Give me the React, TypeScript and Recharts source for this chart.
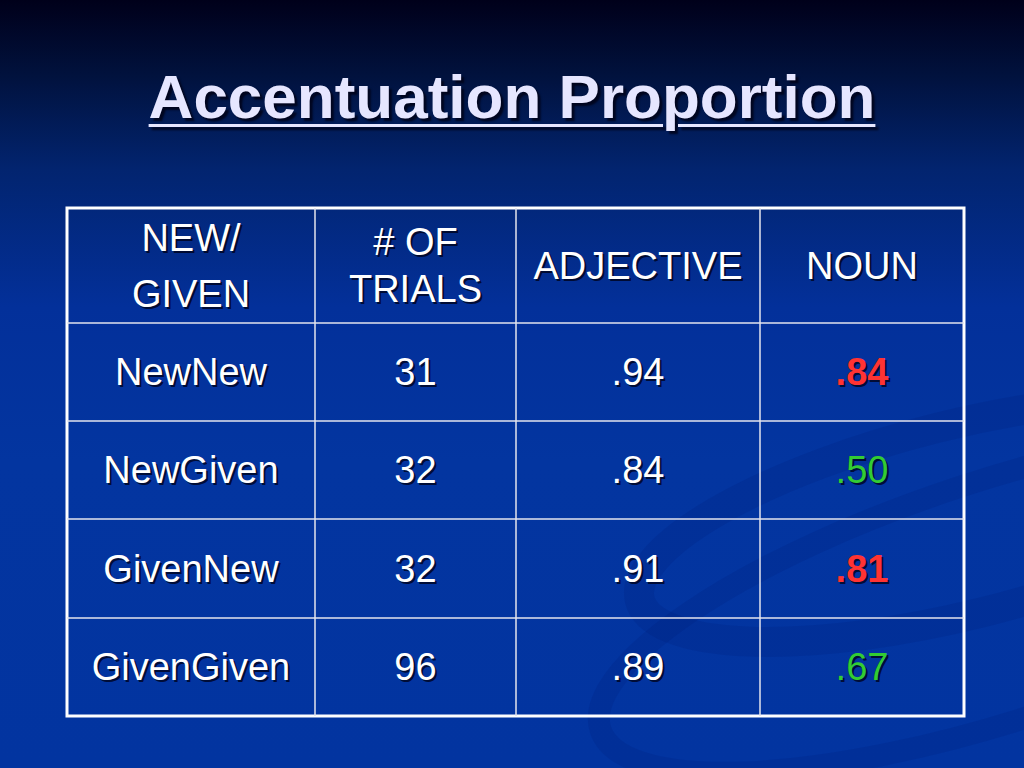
import React from "react";
import {
  ReferenceArea,
  ReferenceLine,
  Scatter,
  ScatterChart,
  XAxis,
  YAxis
} from "recharts";

// table content
const headers = [["NEW/", "GIVEN"], ["# OF", "TRIALS"], ["ADJECTIVE"], ["NOUN"]];
const conditions = ["NewNew", "NewGiven", "GivenNew", "GivenGiven"];
const trials = [31, 32, 32, 96];
const adjective = [0.94, 0.84, 0.91, 0.89];
const noun = [0.84, 0.5, 0.81, 0.67];
// noun values marked red (bold) in the slide, the rest are green
const nounHighlight = [true, false, true, false];

// layout of the grid (relative units, one unit = one pixel of the slide)
const colWidths = [248, 201, 244, 204];
const rowHeights = [115, 98, 98, 99, 98];
const headerLineGap = [56, 47, 0, 0];

const W = 1024;
const H = 768;
const FONT = "'Liberation Sans', Arial, sans-serif";

const edges = (sizes: number[]) =>
  sizes.reduce<number[]>((acc, s) => [...acc, acc[acc.length - 1] + s], [0]);
const colEdges = edges(colWidths);
const rowEdges = edges(rowHeights);
const mid = (e: number[], i: number) => (e[i] + e[i + 1]) / 2;

const fmt = (v: number) => v.toFixed(2).replace(/^0/, "");

type Cell = {
  x: number;
  y: number;
  lines: string[];
  gap: number;
  color: string;
  bold: boolean;
};

const cells: Cell[] = [];
headers.forEach((lines, c) => {
  cells.push({ x: mid(colEdges, c), y: mid(rowEdges, 0), lines, gap: headerLineGap[c], color: "#ffffff", bold: false });
});
conditions.forEach((name, r) => {
  const y = mid(rowEdges, r + 1);
  const row = [name, String(trials[r]), fmt(adjective[r]), fmt(noun[r])];
  row.forEach((text, c) => {
    const isNoun = c === 3;
    cells.push({
      x: mid(colEdges, c),
      y,
      lines: [text],
      gap: 0,
      color: isNoun ? (nounHighlight[r] ? "#ff3333" : "#33cc33") : "#ffffff",
      bold: isNoun && nounHighlight[r]
    });
  });
});

function CellText(props: any) {
  const { cx, cy, payload } = props;
  const p = payload as Cell;
  const n = p.lines.length;
  return (
    <g>
      {p.lines.map((line, i) => {
        const y = cy + (i - (n - 1) / 2) * p.gap;
        const common = {
          x: cx,
          y,
          textAnchor: "middle" as const,
          dominantBaseline: "central" as const,
          fontFamily: FONT,
          fontSize: 38,
          fontWeight: p.bold ? 700 : 400
        };
        return (
          <g key={i}>
            <text {...common} x={cx + 2} y={y + 2} fill="rgba(0,0,20,0.75)">
              {line}
            </text>
            <text {...common} fill={p.color}>
              {line}
            </text>
          </g>
        );
      })}
    </g>
  );
}

export default function App() {
  const tableW = colEdges[colEdges.length - 1];
  const tableH = rowEdges[rowEdges.length - 1];
  return (
    <div
      style={{
        position: "absolute",
        left: 0,
        top: 0,
        width: W,
        height: H,
        overflow: "hidden",
        background:
          "linear-gradient(to bottom, #00001a 0%, #01123e 10%, #02246f 22%, #03309a 40%, #0335a0 60%, #0234a0 100%)"
      }}
    >
      <svg width={W} height={H} style={{ position: "absolute", left: 0, top: 0 }}>
        <g fill="none" stroke="rgba(0,25,110,0.16)">
          <ellipse cx={960} cy={520} rx={330} ry={95} strokeWidth={30} transform="rotate(-14 960 520)" />
          <ellipse cx={1000} cy={600} rx={420} ry={120} strokeWidth={22} transform="rotate(-18 1000 600)" />
        </g>
      </svg>

      <div
        style={{
          position: "absolute",
          left: 0,
          top: 61,
          width: W,
          textAlign: "center",
          fontFamily: FONT,
          fontWeight: 700,
          fontSize: 62,
          lineHeight: "72px",
          color: "#e6e6ff",
          textDecoration: "underline",
          textDecorationThickness: 3,
          textUnderlineOffset: 6,
          textShadow: "3px 3px 2px rgba(0,0,20,0.8)"
        }}
      >
        Accentuation Proportion
      </div>

      <div style={{ position: "absolute", left: 0, top: 0 }}>
        <ScatterChart
          width={W}
          height={H}
          margin={{ left: 67, right: W - 67 - tableW, top: 208, bottom: H - 208 - tableH }}
        >
          <XAxis type="number" dataKey="x" domain={[0, tableW]} hide />
          <YAxis type="number" dataKey="y" domain={[0, tableH]} reversed hide />
          {colEdges.slice(1, -1).map((e) => (
            <ReferenceLine key={"c" + e} x={e} stroke="#e4e4ee" strokeWidth={1.5} />
          ))}
          {rowEdges.slice(1, -1).map((e) => (
            <ReferenceLine key={"r" + e} y={e} stroke="#e4e4ee" strokeWidth={1.5} />
          ))}
          <ReferenceArea
            x1={0}
            x2={tableW}
            y1={0}
            y2={tableH}
            fill="none"
            stroke="#ffffff"
            strokeWidth={3}
            fillOpacity={0}
          />
          <Scatter data={cells} shape={<CellText />} isAnimationActive={false} />
        </ScatterChart>
      </div>
    </div>
  );
}
